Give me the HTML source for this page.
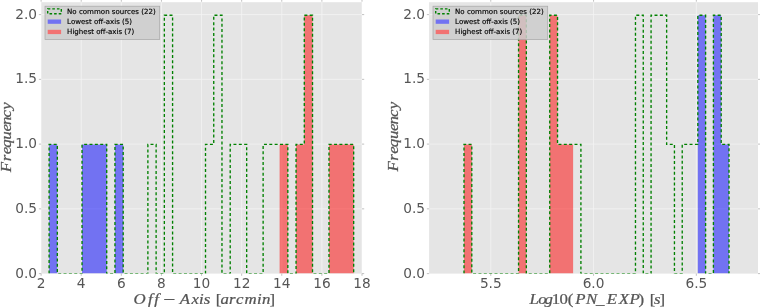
<!DOCTYPE html>
<html lang="en"><head><meta charset="utf-8"><title>Histograms</title>
<style>html,body{margin:0;padding:0;background:#fff}body{width:760px;height:308px;overflow:hidden}svg{display:block}</style>
</head><body>
<svg width="760" height="308" viewBox="0 0 760 308">
<rect width="760" height="308" fill="#ffffff"/>
<clipPath id="c0"><rect x="41.10" y="2.20" width="320.90" height="271.40"/></clipPath>
<clipPath id="d0"><rect x="41.10" y="2.20" width="320.90" height="271.20"/></clipPath>
<rect x="41.10" y="2.20" width="320.90" height="271.40" fill="#e5e5e5"/>
<path d="M41.10 2.20 V273.60 M81.21 2.20 V273.60 M121.32 2.20 V273.60 M161.44 2.20 V273.60 M201.55 2.20 V273.60 M241.66 2.20 V273.60 M281.77 2.20 V273.60 M321.89 2.20 V273.60 M362.00 2.20 V273.60 M41.10 208.85 H362.00 M41.10 144.10 H362.00 M41.10 79.35 H362.00 M41.10 14.60 H362.00" stroke="#f4f4f4" stroke-width="0.8" fill="none" clip-path="url(#c0)"/>
<path d="M41.10 0.00 V1.70 M41.10 273.60 V275.80 M81.21 0.00 V1.70 M81.21 273.60 V275.80 M121.32 0.00 V1.70 M121.32 273.60 V275.80 M161.44 0.00 V1.70 M161.44 273.60 V275.80 M201.55 0.00 V1.70 M201.55 273.60 V275.80 M241.66 0.00 V1.70 M241.66 273.60 V275.80 M281.77 0.00 V1.70 M281.77 273.60 V275.80 M321.89 0.00 V1.70 M321.89 273.60 V275.80 M362.00 0.00 V1.70 M362.00 273.60 V275.80 M38.90 273.60 H41.10 M362.00 273.60 H364.20 M38.90 208.85 H41.10 M362.00 208.85 H364.20 M38.90 144.10 H41.10 M362.00 144.10 H364.20 M38.90 79.35 H41.10 M362.00 79.35 H364.20 M38.90 14.60 H41.10 M362.00 14.60 H364.20" stroke="#a8a8a8" stroke-width="0.7" fill="none"/>
<g clip-path="url(#c0)">
<path d="M49.10 273.60 L49.10 144.40 L57.33 144.40 L57.33 273.60Z M82.03 273.60 L82.03 144.40 L90.26 144.40 L90.26 144.40 L98.49 144.40 L98.49 144.40 L106.72 144.40 L106.72 273.60Z M114.96 273.60 L114.96 144.40 L123.19 144.40 L123.19 273.60Z" fill="#0000ff" fill-opacity="0.5"/>
<path d="M279.60 273.60 L279.60 144.40 L287.83 144.40 L287.83 273.60Z M296.06 273.60 L296.06 144.40 L304.29 144.40 L304.29 15.20 L312.52 15.20 L312.52 273.60Z M328.99 273.60 L328.99 144.40 L337.22 144.40 L337.22 144.40 L345.45 144.40 L345.45 144.40 L353.68 144.40 L353.68 273.60Z" fill="#ff0000" fill-opacity="0.5"/>
</g><g clip-path="url(#d0)">
<path d="M49.10 273.60 L49.10 144.40 L57.33 144.40 L57.33 273.60 L65.56 273.60 L73.80 273.60 L82.03 273.60 L82.03 144.40 L90.26 144.40 L98.49 144.40 L106.72 144.40 L106.72 273.60 L114.96 273.60 L114.96 144.40 L123.19 144.40 L123.19 273.60 L131.42 273.60 L139.65 273.60 L147.88 273.60 L147.88 144.40 L156.12 144.40 L156.12 273.60 L164.35 273.60 L164.35 15.20 L172.58 15.20 L172.58 273.60 L180.81 273.60 L189.04 273.60 L197.28 273.60 L205.51 273.60 L205.51 144.40 L213.74 144.40 L213.74 15.20 L221.97 15.20 L221.97 273.60 L230.20 273.60 L230.20 144.40 L238.44 144.40 L246.67 144.40 L246.67 273.60 L254.90 273.60 L263.13 273.60 L263.13 144.40 L271.36 144.40 L279.60 144.40 L287.83 144.40 L287.83 273.60 L296.06 273.60 L296.06 144.40 L304.29 144.40 L304.29 15.20 L312.52 15.20 L312.52 273.60 L320.76 273.60 L328.99 273.60 L328.99 144.40 L337.22 144.40 L345.45 144.40 L353.68 144.40 L353.68 273.60" fill="none" stroke="#008000" stroke-width="1.35" stroke-dasharray="3 2.35" stroke-linejoin="miter"/>
</g>
<text x="41.10" y="287.8" font-family='"DejaVu Sans","Liberation Sans",sans-serif' font-size="13.7" fill="#555555" text-anchor="middle">2</text>
<text x="81.21" y="287.8" font-family='"DejaVu Sans","Liberation Sans",sans-serif' font-size="13.7" fill="#555555" text-anchor="middle">4</text>
<text x="121.32" y="287.8" font-family='"DejaVu Sans","Liberation Sans",sans-serif' font-size="13.7" fill="#555555" text-anchor="middle">6</text>
<text x="161.44" y="287.8" font-family='"DejaVu Sans","Liberation Sans",sans-serif' font-size="13.7" fill="#555555" text-anchor="middle">8</text>
<text x="201.55" y="287.8" font-family='"DejaVu Sans","Liberation Sans",sans-serif' font-size="13.7" fill="#555555" text-anchor="middle">10</text>
<text x="241.66" y="287.8" font-family='"DejaVu Sans","Liberation Sans",sans-serif' font-size="13.7" fill="#555555" text-anchor="middle">12</text>
<text x="281.77" y="287.8" font-family='"DejaVu Sans","Liberation Sans",sans-serif' font-size="13.7" fill="#555555" text-anchor="middle">14</text>
<text x="321.89" y="287.8" font-family='"DejaVu Sans","Liberation Sans",sans-serif' font-size="13.7" fill="#555555" text-anchor="middle">16</text>
<text x="362.00" y="287.8" font-family='"DejaVu Sans","Liberation Sans",sans-serif' font-size="13.7" fill="#555555" text-anchor="middle">18</text>
<text x="37.10" y="277.60" font-family='"DejaVu Sans","Liberation Sans",sans-serif' font-size="13.7" fill="#555555" text-anchor="end">0.0</text>
<text x="37.10" y="212.85" font-family='"DejaVu Sans","Liberation Sans",sans-serif' font-size="13.7" fill="#555555" text-anchor="end">0.5</text>
<text x="37.10" y="148.10" font-family='"DejaVu Sans","Liberation Sans",sans-serif' font-size="13.7" fill="#555555" text-anchor="end">1.0</text>
<text x="37.10" y="83.35" font-family='"DejaVu Sans","Liberation Sans",sans-serif' font-size="13.7" fill="#555555" text-anchor="end">1.5</text>
<text x="37.10" y="18.60" font-family='"DejaVu Sans","Liberation Sans",sans-serif' font-size="13.7" fill="#555555" text-anchor="end">2.0</text>
<rect x="45.00" y="6.20" width="114.70" height="33.30" fill="#cccccc" fill-opacity="0.86" stroke="#a6a6a6" stroke-width="0.7"/>
<rect x="47.70" y="8.9" width="13.6" height="4.8" fill="none" stroke="#008000" stroke-width="1.4" stroke-dasharray="2.6 2"/>
<rect x="47.70" y="19.5" width="13.4" height="4.3" fill="#7272f2"/>
<rect x="47.70" y="29.8" width="13.4" height="4.3" fill="#f27272"/>
<text x="67.10" y="13.60" font-family='"DejaVu Sans","Liberation Sans",sans-serif' font-size="7.05" fill="#000000" stroke="#000000" stroke-width="0.15">No common sources (22)</text>
<text x="67.10" y="23.85" font-family='"DejaVu Sans","Liberation Sans",sans-serif' font-size="7.05" fill="#000000" stroke="#000000" stroke-width="0.15">Lowest off-axis (5)</text>
<text x="67.10" y="34.10" font-family='"DejaVu Sans","Liberation Sans",sans-serif' font-size="7.05" fill="#000000" stroke="#000000" stroke-width="0.15">Highest off-axis (7)</text>
<clipPath id="c1"><rect x="429.10" y="2.20" width="328.90" height="271.40"/></clipPath>
<clipPath id="d1"><rect x="429.10" y="2.20" width="328.90" height="271.20"/></clipPath>
<rect x="429.10" y="2.20" width="328.90" height="271.40" fill="#e5e5e5"/>
<path d="M490.77 2.20 V273.60 M593.55 2.20 V273.60 M696.33 2.20 V273.60 M429.10 208.85 H758.00 M429.10 144.10 H758.00 M429.10 79.35 H758.00 M429.10 14.60 H758.00" stroke="#f4f4f4" stroke-width="0.8" fill="none" clip-path="url(#c1)"/>
<path d="M490.77 0.00 V1.70 M490.77 273.60 V275.80 M593.55 0.00 V1.70 M593.55 273.60 V275.80 M696.33 0.00 V1.70 M696.33 273.60 V275.80 M426.90 273.60 H429.10 M758.00 273.60 H760.20 M426.90 208.85 H429.10 M758.00 208.85 H760.20 M426.90 144.10 H429.10 M758.00 144.10 H760.20 M426.90 79.35 H429.10 M758.00 79.35 H760.20 M426.90 14.60 H429.10 M758.00 14.60 H760.20" stroke="#a8a8a8" stroke-width="0.7" fill="none"/>
<g clip-path="url(#c1)">
<path d="M697.82 273.60 L697.82 15.20 L705.61 15.20 L705.61 273.60Z M713.41 273.60 L713.41 15.20 L721.20 15.20 L721.20 144.40 L729.00 144.40 L729.00 273.60Z" fill="#0000ff" fill-opacity="0.5"/>
<path d="M464.00 273.60 L464.00 144.40 L471.79 144.40 L471.79 273.60Z M518.56 273.60 L518.56 15.20 L526.35 15.20 L526.35 273.60Z M549.73 273.60 L549.73 15.20 L557.53 15.20 L557.53 144.40 L565.32 144.40 L565.32 144.40 L573.12 144.40 L573.12 273.60Z" fill="#ff0000" fill-opacity="0.5"/>
</g><g clip-path="url(#d1)">
<path d="M464.00 273.60 L464.00 144.40 L471.79 144.40 L471.79 273.60 L479.59 273.60 L487.38 273.60 L495.18 273.60 L502.97 273.60 L510.76 273.60 L518.56 273.60 L518.56 15.20 L526.35 15.20 L526.35 273.60 L534.15 273.60 L541.94 273.60 L549.73 273.60 L549.73 15.20 L557.53 15.20 L557.53 144.40 L565.32 144.40 L573.12 144.40 L580.91 144.40 L580.91 273.60 L588.70 273.60 L596.50 273.60 L604.29 273.60 L612.09 273.60 L619.88 273.60 L627.67 273.60 L635.47 273.60 L635.47 15.20 L643.26 15.20 L643.26 273.60 L651.06 273.60 L651.06 15.20 L658.85 15.20 L666.64 15.20 L666.64 144.40 L674.44 144.40 L674.44 273.60 L682.23 273.60 L682.23 144.40 L690.03 144.40 L697.82 144.40 L697.82 15.20 L705.61 15.20 L705.61 273.60 L713.41 273.60 L713.41 15.20 L721.20 15.20 L721.20 144.40 L729.00 144.40 L729.00 273.60" fill="none" stroke="#008000" stroke-width="1.35" stroke-dasharray="3 2.35" stroke-linejoin="miter"/>
</g>
<text x="490.77" y="287.8" font-family='"DejaVu Sans","Liberation Sans",sans-serif' font-size="13.7" fill="#555555" text-anchor="middle">5.5</text>
<text x="593.55" y="287.8" font-family='"DejaVu Sans","Liberation Sans",sans-serif' font-size="13.7" fill="#555555" text-anchor="middle">6.0</text>
<text x="696.33" y="287.8" font-family='"DejaVu Sans","Liberation Sans",sans-serif' font-size="13.7" fill="#555555" text-anchor="middle">6.5</text>
<text x="425.10" y="277.60" font-family='"DejaVu Sans","Liberation Sans",sans-serif' font-size="13.7" fill="#555555" text-anchor="end">0.0</text>
<text x="425.10" y="212.85" font-family='"DejaVu Sans","Liberation Sans",sans-serif' font-size="13.7" fill="#555555" text-anchor="end">0.5</text>
<text x="425.10" y="148.10" font-family='"DejaVu Sans","Liberation Sans",sans-serif' font-size="13.7" fill="#555555" text-anchor="end">1.0</text>
<text x="425.10" y="83.35" font-family='"DejaVu Sans","Liberation Sans",sans-serif' font-size="13.7" fill="#555555" text-anchor="end">1.5</text>
<text x="425.10" y="18.60" font-family='"DejaVu Sans","Liberation Sans",sans-serif' font-size="13.7" fill="#555555" text-anchor="end">2.0</text>
<rect x="433.00" y="6.20" width="114.70" height="33.30" fill="#cccccc" fill-opacity="0.86" stroke="#a6a6a6" stroke-width="0.7"/>
<rect x="435.70" y="8.9" width="13.6" height="4.8" fill="none" stroke="#008000" stroke-width="1.4" stroke-dasharray="2.6 2"/>
<rect x="435.70" y="19.5" width="13.4" height="4.3" fill="#7272f2"/>
<rect x="435.70" y="29.8" width="13.4" height="4.3" fill="#f27272"/>
<text x="455.10" y="13.60" font-family='"DejaVu Sans","Liberation Sans",sans-serif' font-size="7.05" fill="#000000" stroke="#000000" stroke-width="0.15">No common sources (22)</text>
<text x="455.10" y="23.85" font-family='"DejaVu Sans","Liberation Sans",sans-serif' font-size="7.05" fill="#000000" stroke="#000000" stroke-width="0.15">Lowest off-axis (5)</text>
<text x="455.10" y="34.10" font-family='"DejaVu Sans","Liberation Sans",sans-serif' font-size="7.05" fill="#000000" stroke="#000000" stroke-width="0.15">Highest off-axis (7)</text>
<text font-family='"Liberation Serif","DejaVu Serif",serif' font-size="15.00" fill="#555555" stroke="#555555" stroke-width="0.25" xml:space="preserve" transform=" scale(1.120 1)"><tspan font-style="italic" x="119.25 132.15 137.82" y="303.90">Off</tspan><tspan font-style="normal" x="144.64" y="303.90"> </tspan><tspan font-style="normal" x="145.74" y="306.37" font-size="19.19">−</tspan><tspan font-style="normal" x="156.70" y="303.90"> </tspan><tspan font-style="italic" x="160.54 170.92 177.68 181.99" y="303.90">Axis</tspan><tspan font-style="normal" x="189.29 192.57" y="303.90"> [</tspan><tspan font-style="italic" x="196.98 204.57 210.67 218.20 229.51 233.93" y="303.90">arcmin</tspan><tspan font-style="normal" x="240.60" y="303.90">]</tspan></text>
<text font-family='"Liberation Serif","DejaVu Serif",serif' font-size="15.00" fill="#555555" stroke="#555555" stroke-width="0.25" xml:space="preserve" transform=" scale(1.120 1)"><tspan font-style="italic" x="472.75 480.54 486.15" y="303.60">Log</tspan><tspan font-style="normal" x="492.74 499.51 506.88" y="303.60">10(</tspan><tspan font-style="italic" x="513.51 523.14" y="303.60">PN</tspan><tspan font-style="normal" x="532.14" y="303.60">_</tspan><tspan font-style="italic" x="541.70 552.39 562.17" y="303.60">EXP</tspan><tspan font-style="normal" x="570.13 575.89 580.07" y="303.60">) [</tspan><tspan font-style="italic" x="584.00" y="303.60">s</tspan><tspan font-style="normal" x="588.81" y="303.60">]</tspan></text>
<text font-family='"Liberation Serif","DejaVu Serif",serif' font-size="15.00" fill="#555555" stroke="#555555" stroke-width="0.25" xml:space="preserve" transform="translate(10.6 172.2) rotate(-90) scale(1.120 1)"><tspan font-style="italic" x="0.04 9.79 16.03 21.80 29.09 36.30 42.05 48.80 55.78" y="0.00">Frequency</tspan></text>
<text font-family='"Liberation Serif","DejaVu Serif",serif' font-size="15.00" fill="#555555" stroke="#555555" stroke-width="0.25" xml:space="preserve" transform="translate(398.4 171.6) rotate(-90) scale(1.120 1)"><tspan font-style="italic" x="0.04 9.79 16.03 21.80 29.09 36.30 42.05 48.80 55.78" y="0.00">Frequency</tspan></text>
</svg>
</body></html>
